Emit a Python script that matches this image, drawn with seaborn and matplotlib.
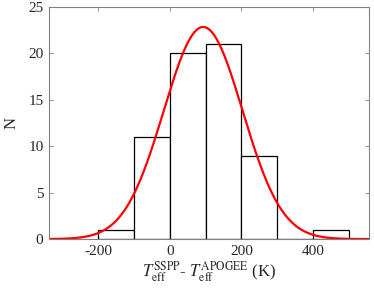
import numpy as np
import pandas as pd
import matplotlib
matplotlib.use("Agg")
import matplotlib.pyplot as plt
import seaborn as sns

# histogram of T_eff differences (SSPP - APOGEE)
bin_edges = [-200, -100, 0, 100, 200, 300, 400, 500]
counts = [1, 11, 20, 21, 9, 0, 1]
# fitted normal parameters
fit_mu = 93.0
fit_sigma = 110.0

sns.set_style("white")
plt.rcParams['font.family'] = ['Liberation Serif', 'DejaVu Serif']
plt.rcParams['mathtext.fontset'] = 'stix'

centers = [(bin_edges[i] + bin_edges[i + 1]) / 2 for i in range(len(counts))]
df = pd.DataFrame({'dT': centers, 'n': counts})

fig = plt.figure(figsize=(3.74, 2.93), dpi=100)
ax = fig.add_axes([0.131, 0.184, 0.856, 0.792])

sns.histplot(data=df, x='dT', weights='n', bins=bin_edges, stat='count',
             color='white', edgecolor='black', linewidth=0.9, alpha=1, ax=ax)

xs = np.linspace(-340, 560, 500)
width = bin_edges[1] - bin_edges[0]
ys = sum(counts) * width / (fit_sigma * np.sqrt(2 * np.pi)) * np.exp(-(xs - fit_mu) ** 2 / (2 * fit_sigma ** 2))
sns.lineplot(x=xs, y=ys, color='red', linewidth=1.6, ax=ax)

ax.set_xlim(-338, 557)
ax.set_ylim(0, 25)
ax.set_xticks([-200, 0, 200, 400])
ax.set_yticks([0, 5, 10, 15, 20, 25])
ax.set_xticklabels(['-200', '0', '200', '400'])
ax.set_ylabel('N', fontsize=12, color='#262626', labelpad=6)
ax.set_xlabel(r'$T_{\rm eff}^{\rm SSPP}$- $T_{\rm eff}^{\rm APOGEE}$ (K)', fontsize=12,
              color='#262626', labelpad=1)
ax.tick_params(direction='in', length=3, width=0.6, color='#808080',
               labelsize=11, labelcolor='#262626', top=True, right=True,
               bottom=True, left=True, pad=4)
for sp in ax.spines.values():
    sp.set_color('#808080')
    sp.set_linewidth(0.8)

fig.savefig('out.png', dpi=100)
